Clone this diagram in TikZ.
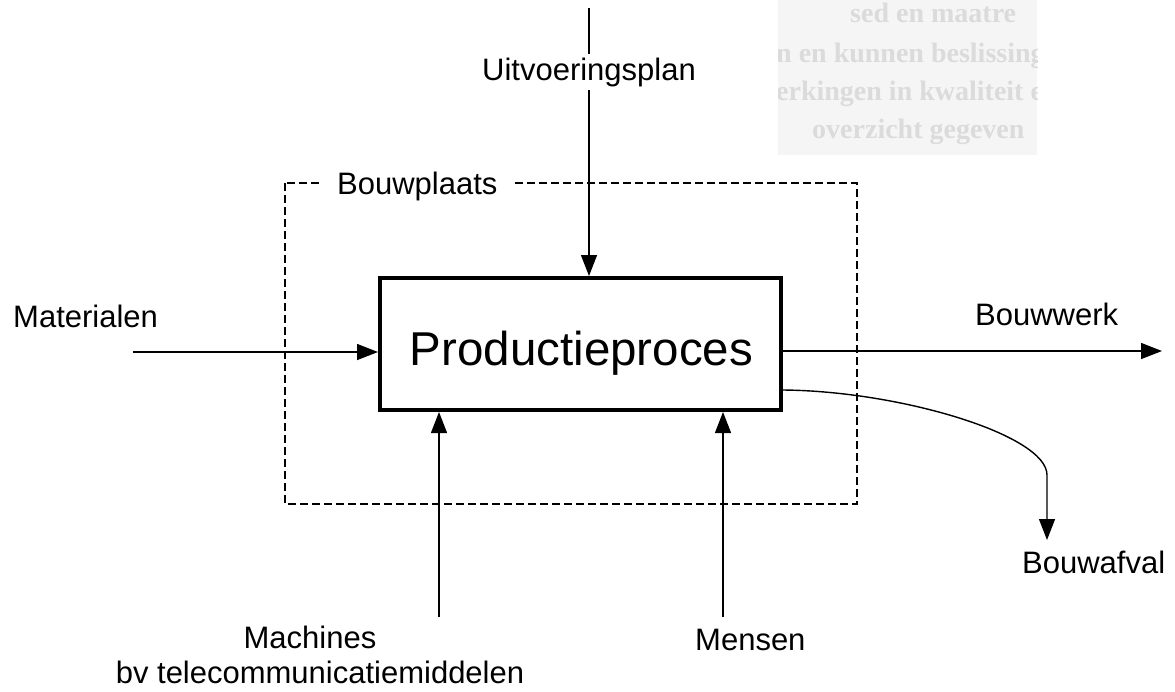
\documentclass[tikz,border=0pt]{standalone}
\usepackage{fontspec}
\setmainfont{Liberation Sans}
\newfontfamily\ghostfont{Liberation Serif}
\usetikzlibrary{arrows.meta}

\begin{document}
\begin{tikzpicture}[x=1pt,y=-1pt,
  flow/.style={line width=1.4pt,-{Triangle[length=21pt,width=16pt]}},
  label/.style={inner sep=0pt,font=\fontsize{31}{31}\selectfont},
  process/.style={draw,line width=4pt,minimum width=401pt,minimum height=132pt,inner sep=0pt},
  site/.style={draw,line width=1.4pt,dash pattern=on 8pt off 4pt},
  ghost/.style={inner sep=0pt,anchor=base west,text=black!14,font=\ghostfont\bfseries\fontsize{28}{28}\selectfont}]
\useasboundingbox (0,0) rectangle (1175,691);

% faint show-through from the reverse side of the page
\fill[black!4] (778,0) rectangle (1037,155);
\begin{scope}
  \clip (778,0) rectangle (1037,155);
  \node[ghost] (g1) at (850,22) {sed en maatre};
  \node[ghost] (g2) at (776,62) {n en kunnen beslissinge};
  \node[ghost] (g3) at (776,100) {erkingen in kwaliteit en k};
  \node[ghost] (g4) at (812,138) {overzicht gegeven};
\end{scope}

% construction site boundary
\draw[site] (285,183) rectangle (857,504);
\node[label,anchor=base west,fill=white,inner xsep=17pt,inner ysep=2pt] (site) at (320,194) {Bouwplaats};

% the production process
\node[process] (box) at (580.5,344) {};
\node[inner sep=0pt,anchor=base,font=\fontsize{47.5}{47.5}\selectfont] (boxtext) at (581.5,365) {Productieproces};

% free ends of the connectors
\coordinate (planTop) at (589,8);
\coordinate (matStart) at (133,352);
\coordinate (werkEnd) at (1162,351);
\coordinate (afvStart) at (781,390);
\coordinate (afvBend) at (1047,475);
\coordinate (afvEnd) at (1047,540);
\coordinate (machStart) at (439,617);
\coordinate (mensStart) at (723,617);

% plan input from above
\draw[flow] (planTop) -- (planTop |- box.north);
\node[label,anchor=base,fill=white,inner xsep=2pt,inner ysep=4pt] (plan) at (589,80) {Uitvoeringsplan};

% material input
\draw[flow] (matStart) -- (box.west |- matStart);
\node[label,anchor=base west] (mat) at (13,327) {Materialen};

% outputs
\draw[flow] (box.east |- werkEnd) -- (werkEnd);
\node[label,anchor=base west] (werk) at (975,325) {Bouwwerk};

\draw[flow] (box.east |- afvStart) .. controls (900,391) and (1047,435) .. (afvBend) -- (afvEnd);
\node[label,anchor=base west] (afv) at (1022,573) {Bouwafval};

% resources from below
\draw[flow] (machStart) -- (machStart |- box.south);
\draw[flow] (mensStart) -- (mensStart |- box.south);
\node[label,anchor=base] (mach) at (310,648) {Machines};
\node[label,anchor=base] (machsub) at (320,683) {bv telecommunicatiemiddelen};
\node[label,anchor=base west] (mens) at (695,650) {Mensen};
\end{tikzpicture}
\end{document}
